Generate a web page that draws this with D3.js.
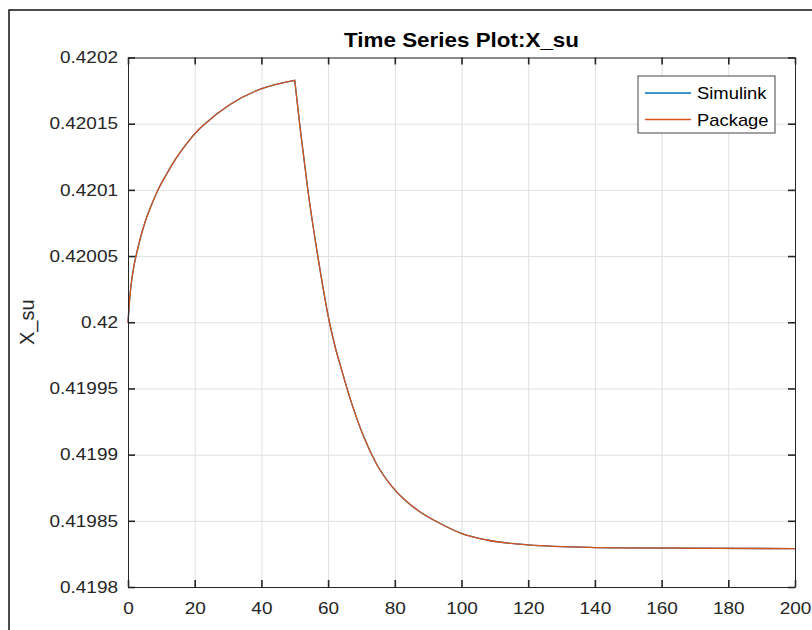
<!DOCTYPE html>
<html>
<head>
<meta charset="utf-8">
<script src="https://cdn.jsdelivr.net/npm/d3@7"></script>
<style>
  body { margin: 0; background: #fff; }
  svg { display: block; font-family: "Liberation Sans", Arial, Helvetica, sans-serif; }
</style>
</head>
<body>
<div id="chart"></div>
<script>
// values
const timeValues = [
    0, 0.3, 0.8, 1.6, 2.4, 3.6, 5.1, 7.1, 9.1, 11.6, 14.6, 17.6, 21.6, 23.1, 30.6, 40.1, 50,
    51.6, 53.9, 56.9, 60.4, 62.1, 63.6, 67.1, 70.6, 74.6, 79.1, 83.1, 87.6, 93.6, 100.1,
    107.6, 120, 140, 147.5, 200
];
const simulinkValues = [
    0.42, 0.420011, 0.4200255, 0.42004, 0.42005, 0.4200625, 0.4200755, 0.420089,
    0.4201005, 0.420112, 0.4201245, 0.420135, 0.4201465, 0.42015, 0.4201645, 0.4201765,
    0.4201828,
    0.420147, 0.4201005, 0.4200501, 0.42, 0.4199815, 0.419968, 0.4199385, 0.419914,
    0.4198925, 0.419876, 0.4198655, 0.4198567, 0.419848, 0.4198404, 0.4198355,
    0.4198318, 0.4198298, 0.4198295, 0.419829
];
const packageValues = [
    0.42, 0.420011, 0.4200255, 0.42004, 0.42005, 0.4200625, 0.4200755, 0.420089,
    0.4201005, 0.420112, 0.4201245, 0.420135, 0.4201465, 0.42015, 0.4201645, 0.4201765,
    0.4201828,
    0.420147, 0.4201005, 0.4200501, 0.42, 0.4199815, 0.419968, 0.4199385, 0.419914,
    0.4198925, 0.419876, 0.4198655, 0.4198567, 0.419848, 0.4198404, 0.4198355,
    0.4198318, 0.4198298, 0.4198295, 0.419829
];
const peakIndex = 16; // the input step ends at t = 50
const seriesNames = ["Simulink", "Package"];
const seriesColors = ["#0072BD", "#D95319"];
const xTicks = [0, 20, 40, 60, 80, 100, 120, 140, 160, 180, 200];
const yTicks = [0.4198, 0.41985, 0.4199, 0.41995, 0.42, 0.42005, 0.4201, 0.42015, 0.4202];
const yTickLabels = ["0.4198", "0.41985", "0.4199", "0.41995", "0.42", "0.42005", "0.4201", "0.42015", "0.4202"];
const titleText = "Time Series Plot:X_su";
const yLabelText = "X_su";

const W = 812, H = 630;
const padding = { top: 57.5, right: 17, bottom: 43, left: 128 };
const width = W - padding.left - padding.right;
const height = H - padding.top - padding.bottom;
const stretch = 1.15;
const axisColor = "#262626";

const svg = d3.select("#chart")
    .append("svg")
    .attr("width", W)
    .attr("height", H);

svg.append("rect")
    .attr("width", W).attr("height", H)
    .attr("fill", "#fff");

// figure window edge
svg.append("rect")
    .attr("x", 9).attr("y", 10)
    .attr("width", W).attr("height", H)
    .attr("fill", "none")
    .attr("stroke", "#111")
    .attr("stroke-width", 1.5);

const xScale = d3.scaleLinear().domain([0, 200]).range([0, width]);
const yScale = d3.scaleLinear().domain([0.4198, 0.4202]).range([height, 0]);

const plot = svg.append("g")
    .attr("transform", "translate(" + padding.left + "," + padding.top + ")");

// grid
plot.append("g")
    .attr("class", "grid")
    .call(d3.axisBottom(xScale).tickValues(xTicks).tickSize(height).tickFormat(""))
    .call(g => g.select(".domain").remove())
    .call(g => g.selectAll("line").attr("stroke", "#e0e0e0"));
plot.append("g")
    .attr("class", "grid")
    .call(d3.axisLeft(yScale).tickValues(yTicks).tickSize(-width).tickFormat(""))
    .call(g => g.select(".domain").remove())
    .call(g => g.selectAll("line").attr("stroke", "#e0e0e0"));

// series: rise and decay drawn as two smooth pieces so the corner at t = 50 stays sharp
const line = d3.line()
    .x(d => xScale(d[0]))
    .y(d => yScale(d[1]))
    .curve(d3.curveMonotoneX);

[simulinkValues, packageValues].forEach((vals, i) => {
    const pts = vals.map((v, j) => [timeValues[j], v]);
    plot.append("path")
        .attr("fill", "none")
        .attr("stroke", seriesColors[i])
        .attr("stroke-width", 1.3)
        .attr("stroke-linejoin", "round")
        .attr("stroke-linecap", "round")
        .attr("d", line(pts.slice(0, peakIndex + 1)) + line(pts.slice(peakIndex)));
});

// axes with inward ticks
function styleAxis(g) {
    g.select(".domain").attr("stroke", axisColor).attr("stroke-width", 1);
    g.selectAll(".tick line").attr("stroke", axisColor).attr("stroke-width", 1.6);
    g.selectAll("text").attr("fill", axisColor);
}

plot.append("g")
    .attr("transform", "translate(0," + height + ")")
    .call(d3.axisBottom(xScale).tickValues(xTicks).tickSizeInner(-7).tickSizeOuter(0))
    .call(styleAxis)
    .call(g => g.selectAll("text")
        .attr("font-size", 16.5)
        .attr("transform", "translate(0,15) scale(" + stretch + ",1)")
        .attr("y", 0));

plot.append("g")
    .call(d3.axisLeft(yScale).tickValues(yTicks).tickSizeInner(-7).tickSizeOuter(0)
        .tickFormat((d, i) => yTickLabels[i]))
    .call(styleAxis)
    .call(g => g.selectAll("text")
        .attr("font-size", 16.5)
        .attr("x", 0)
        .attr("transform", "translate(-10,0) scale(" + stretch + ",1)"));

plot.append("g")
    .call(d3.axisTop(xScale).tickValues(xTicks).tickSizeInner(-7).tickSizeOuter(0).tickFormat(""))
    .call(styleAxis);

plot.append("g")
    .attr("transform", "translate(" + width + ",0)")
    .call(d3.axisRight(yScale).tickValues(yTicks).tickSizeInner(-7).tickSizeOuter(0).tickFormat(""))
    .call(styleAxis);

// title
svg.append("text")
    .attr("transform", "translate(" + (padding.left + width / 2) + ",47) scale(" + stretch + ",1)")
    .attr("text-anchor", "middle")
    .attr("font-size", 19.5)
    .attr("font-weight", "bold")
    .attr("fill", "#000")
    .text(titleText);

// y label
svg.append("text")
    .attr("transform", "translate(34," + (padding.top + height / 2) + ") rotate(-90)")
    .attr("text-anchor", "middle")
    .attr("font-size", 20)
    .attr("fill", axisColor)
    .text(yLabelText);

// legend
const legend = svg.append("g")
    .attr("transform", "translate(638,76)");
legend.append("rect")
    .attr("width", 137).attr("height", 57)
    .attr("fill", "#fff")
    .attr("stroke", "#444")
    .attr("stroke-width", 1);
seriesNames.forEach((name, i) => {
    const y = 17 + i * 26.5;
    legend.append("line")
        .attr("x1", 7).attr("x2", 53)
        .attr("y1", y).attr("y2", y)
        .attr("stroke", seriesColors[i])
        .attr("stroke-width", 1.3);
    legend.append("text")
        .attr("transform", "translate(59," + (y + 6) + ") scale(" + stretch + ",1)")
        .attr("font-size", 16)
        .attr("fill", "#000")
        .text(name);
});
</script>
</body>
</html>
